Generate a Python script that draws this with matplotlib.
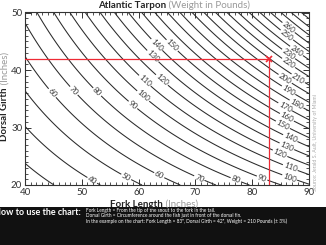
import numpy as np
import matplotlib
matplotlib.use("Agg")
import matplotlib.pyplot as plt
from matplotlib.ticker import MultipleLocator

plt.rcParams['font.family'] = ['Lato', 'DejaVu Sans']

# ---- data ----
fork_length_range = [40, 90]       # inches
girth_range = [20, 50]             # inches
weight_levels = [30, 40, 50, 60, 70, 80, 90, 100, 110, 120, 130, 140, 150, 160,
                 170, 180, 190, 200, 210, 220, 230, 240, 250, 260, 270, 280, 290]
# weight relation fitted to the drawn contours: W = C * L^a * G^b
COEF = 1.1327e-3
EXP_LENGTH = 1.73
EXP_GIRTH = 1.20
example_length = 83
example_girth = 42
x_ticks = [40, 50, 60, 70, 80, 90]
y_ticks = [20, 30, 40, 50]

# where labels sit: (level, girth) near the bottom, (level, length) elsewhere
bottom_labels = [(40, 20.8), (50, 21.4), (60, 21.7), (70, 21.2), (80, 20.9), (90, 21.2)]
middle_labels = [(60, 44.8), (70, 48.6), (80, 52.7), (90, 59.0), (100, 60.8), (110, 61.1),
                 (120, 64.1), (130, 62.5), (140, 63.2), (150, 65.9)]
right_labels = [(100, 86.6), (110, 86.7), (120, 84.9), (130, 86.1), (140, 86.7), (150, 85.4),
                (160, 86.1), (170, 85.8), (180, 87.8), (190, 86.4), (200, 85.8), (210, 88.1),
                (220, 86.4), (230, 86.4), (240, 87.8), (250, 86.1), (260, 86.4)]


def girth_on(level, length):
    return (level / (COEF * length ** EXP_LENGTH)) ** (1 / EXP_GIRTH)


def length_on(level, girth):
    return (level / (COEF * girth ** EXP_GIRTH)) ** (1 / EXP_LENGTH)


label_spots = [(length_on(lv, g), g) for lv, g in bottom_labels]
label_spots += [(l, girth_on(lv, l)) for lv, l in middle_labels + right_labels]

W_px, H_px = 326, 245
fig = plt.figure(figsize=(W_px / 100, H_px / 100), dpi=100)
fig.patch.set_facecolor('white')

ax = fig.add_axes([25 / W_px, 1 - 185 / H_px, (309 - 25) / W_px, (185 - 12.5) / H_px])

L = np.linspace(fork_length_range[0], fork_length_range[1], 400)
G = np.linspace(girth_range[0], girth_range[1], 400)
LL, GG = np.meshgrid(L, G)
WW = COEF * LL ** EXP_LENGTH * GG ** EXP_GIRTH

cs = ax.contour(LL, GG, WW, levels=weight_levels, colors='#2a2a2a', linewidths=0.75)
ax.clabel(cs, inline=True, inline_spacing=1, fontsize=5.8, fmt='%d',
          manual=label_spots, colors='#3a3a3a')

# example lines
red = '#ee2a35'
ax.plot([fork_length_range[0], example_length], [example_girth, example_girth], color=red, lw=0.9, zorder=5)
ax.plot([example_length, example_length], [girth_range[0], example_girth], color=red, lw=0.9, zorder=5)
ax.plot([example_length], [example_girth], marker='x', color=red, ms=4, mew=1.2, zorder=6)

ax.set_xlim(fork_length_range)
ax.set_ylim(girth_range)
ax.set_xticks(x_ticks)
ax.set_yticks(y_ticks)
ax.xaxis.set_minor_locator(MultipleLocator(1))
ax.yaxis.set_minor_locator(MultipleLocator(1))
ax.tick_params(which='both', direction='in', top=True, right=True, colors='#333333',
               labelsize=7, labelcolor='#333333', pad=2)
ax.tick_params(which='major', length=4, width=0.7)
ax.tick_params(which='minor', length=2, width=0.6)
for s in ax.spines.values():
    s.set_linewidth(0.8)
    s.set_color('#333333')

# title
fig.text(0.51, 1 - 5 / H_px, 'Atlantic Tarpon', ha='right', va='center', fontsize=7,
         fontweight='bold', color='#222222')
fig.text(0.51, 1 - 5 / H_px, ' (Weight in Pounds)', ha='left', va='center', fontsize=7,
         color='#999999')
# x label
fig.text(0.5, 1 - 204 / H_px, 'Fork Length', ha='right', va='center', fontsize=7,
         fontweight='bold', color='#222222')
fig.text(0.5, 1 - 204 / H_px, ' (Inches)', ha='left', va='center', fontsize=7,
         color='#999999')
# y label
fig.text(5 / W_px, 1 - 87 / H_px, 'Dorsal Girth', ha='center', va='top', fontsize=7,
         fontweight='bold', color='#222222', rotation=90)
fig.text(5 / W_px, 1 - 87 / H_px, ' (Inches)', ha='center', va='bottom', fontsize=7,
         color='#999999', rotation=90)
# source
fig.text(316 / W_px, 1 - 143 / H_px, 'Source: Jerald S. Ault, University of Miami', ha='center',
         va='center', fontsize=3.8, color='#aaaaaa', rotation=90)

# bottom band
band_top = 207
band = fig.add_axes([0, 0, 1, (H_px - band_top) / H_px])
band.set_facecolor('#111111')
band.set_xticks([])
band.set_yticks([])
for s in band.spines.values():
    s.set_visible(False)
band.set_xlim(0, W_px)
band.set_ylim(H_px, band_top)
band.text(-6, 212, 'How to use the chart:', ha='left', va='center', fontsize=6.5,
          fontweight='bold', color='white')
band.text(86, 210, 'Fork Length = From the tip of the snout to the fork in the tail.',
          ha='left', va='center', fontsize=3.4, color='white')
band.text(86, 215.5, 'Dorsal Girth = Circumference around the fish just in front of the dorsal fin.',
          ha='left', va='center', fontsize=3.4, color='white')
band.text(86, 221, 'In the example on the chart: Fork Length = 83", Dorsal Girth = 42", '
          'Weight = 210 Pounds (\u00b1 3%)', ha='left', va='center', fontsize=3.4, color='white')

fig.savefig('out.png', dpi=100, facecolor='white')
